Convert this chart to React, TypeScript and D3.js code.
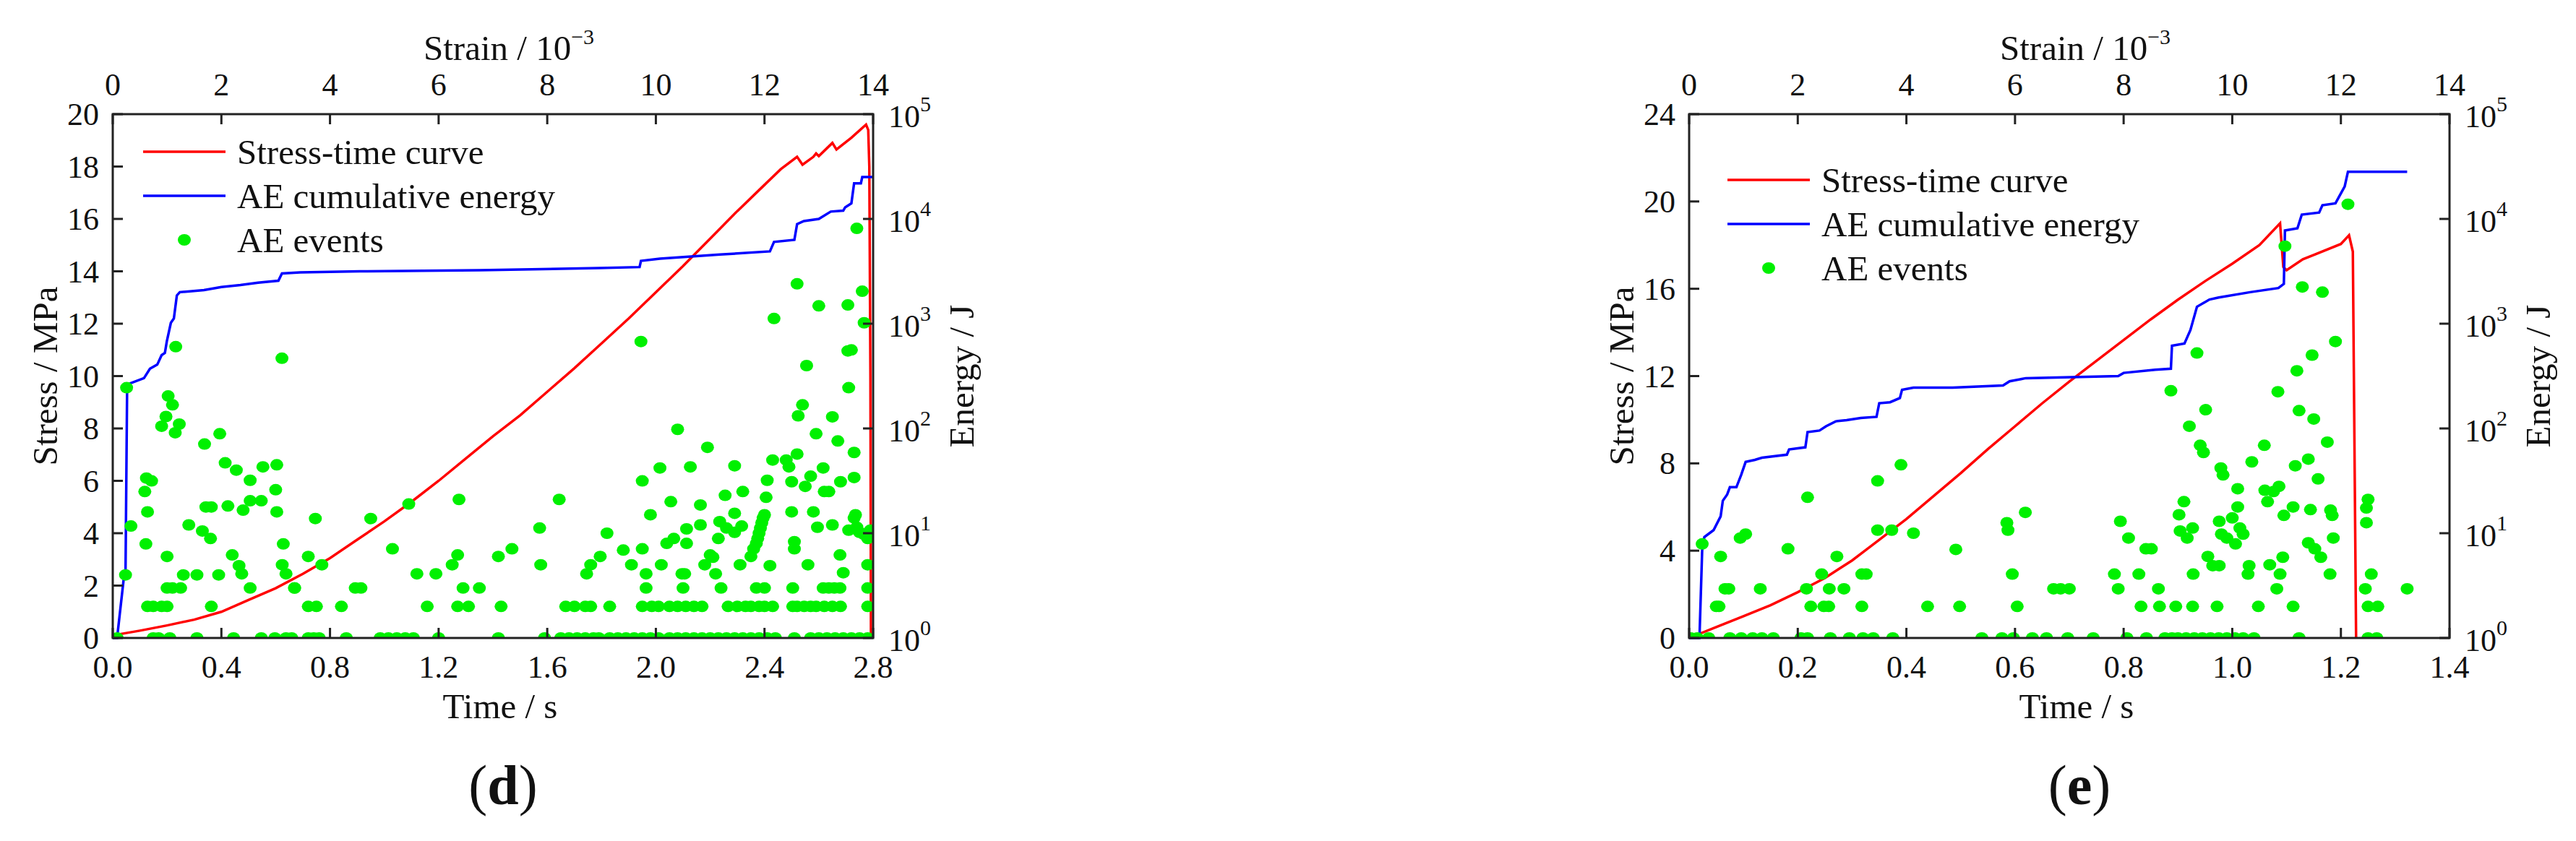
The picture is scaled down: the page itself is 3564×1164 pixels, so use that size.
import React from 'react';
import * as d3 from 'd3';

type Pt = [number, number];

// ---- shared axis ticks ----
const strainTicks = [0, 2, 4, 6, 8, 10, 12, 14];
const energyTicks = [1, 10, 100, 1000, 10000, 100000];
const legendLabels = ['Stress-time curve', 'AE cumulative energy', 'AE events'];

// ---- panel (d) ----
const timeTicksD = [0, 0.4, 0.8, 1.2, 1.6, 2.0, 2.4, 2.8];
const stressTicksD = [0, 2, 4, 6, 8, 10, 12, 14, 16, 18, 20];

const stressD: Pt[] = [
  [0, 0.1], [0.1, 0.28], [0.2, 0.48], [0.3, 0.7], [0.4, 1.0], [0.5, 1.45], [0.6, 1.9],
  [0.7, 2.45], [0.8, 3.05], [0.9, 3.75], [1.0, 4.45], [1.1, 5.2], [1.2, 6.0], [1.3, 6.85],
  [1.4, 7.7], [1.5, 8.5], [1.6, 9.4], [1.7, 10.3], [1.8, 11.25], [1.9, 12.2], [2.0, 13.2],
  [2.1, 14.2], [2.2, 15.25], [2.3, 16.3], [2.4, 17.3], [2.46, 17.9], [2.52, 18.37],
  [2.54, 18.07], [2.58, 18.37], [2.59, 18.5], [2.6, 18.4], [2.63, 18.7], [2.65, 18.9],
  [2.665, 18.65], [2.72, 19.1], [2.774, 19.6], [2.782, 19.4], [2.786, 18.0], [2.79, 10],
  [2.792, 0],
];

const energyD: Pt[] = [
  [0, 1], [0.016, 1], [0.042, 4], [0.047, 4.2], [0.053, 263], [0.115, 302], [0.137, 372],
  [0.164, 407], [0.18, 501], [0.192, 525], [0.199, 676], [0.214, 1020], [0.225, 1120],
  [0.236, 1860], [0.247, 2000], [0.336, 2090], [0.4, 2240], [0.47, 2340], [0.535, 2460],
  [0.61, 2570], [0.623, 3020], [0.69, 3090], [0.91, 3160], [1.35, 3240], [1.79, 3390],
  [1.94, 3470], [1.945, 3980], [2.015, 4170], [2.236, 4570], [2.42, 4900], [2.435, 6030],
  [2.51, 6310], [2.52, 8910], [2.545, 9550], [2.6, 10000], [2.644, 11750], [2.69, 12000],
  [2.697, 12900], [2.72, 14100], [2.73, 21900], [2.755, 21900], [2.76, 25100], [2.8, 25100],
];

const oneJTimesD = [
  0.016, 0.149, 0.169, 0.21, 0.31, 0.445, 0.547, 0.597, 0.638, 0.659, 0.72, 0.74, 0.76, 0.86,
  0.985, 1.015, 1.046, 1.077, 1.107, 1.2, 1.42, 1.59, 1.65, 1.68, 1.71, 1.74, 1.77, 1.79,
  1.83, 1.86, 1.89, 1.92, 1.95, 1.98, 2.01, 2.05, 2.08, 2.11, 2.14, 2.17, 2.2, 2.23, 2.26,
  2.29, 2.32, 2.35, 2.38, 2.41, 2.44, 2.51, 2.57, 2.6, 2.63, 2.66, 2.69, 2.72, 2.75, 2.78,
];
const twoJTimesD = [
  0.128, 0.149, 0.18, 0.2, 0.363, 0.72, 0.75, 0.842, 1.158, 1.27, 1.31, 1.43, 1.668, 1.7,
  1.74, 1.76, 1.83, 1.95, 1.985, 2.01, 2.05, 2.08, 2.11, 2.14, 2.17, 2.266, 2.3, 2.33, 2.35,
  2.38, 2.4, 2.43, 2.504, 2.52, 2.546, 2.57, 2.59, 2.62, 2.65, 2.68, 2.78,
];
const threeJTimesD = [
  0.2, 0.22, 0.25, 0.506, 0.67, 0.893, 0.914, 1.29, 1.35, 1.964, 2.1, 2.24, 2.37, 2.4, 2.504,
  2.616, 2.637, 2.657, 2.678, 2.78,
];
const scatterD: Pt[] = [
  [0.051, 245], [0.067, 11.7], [0.047, 4], [0.122, 7.9], [0.118, 25], [0.128, 16], [0.124, 33.6],
  [0.143, 31.6], [0.18, 105], [0.196, 130], [0.204, 204], [0.22, 168], [0.23, 91], [0.245, 110],
  [0.2, 6], [0.26, 4], [0.28, 12], [0.31, 4], [0.33, 10.5], [0.338, 71], [0.343, 17.8],
  [0.36, 8.9], [0.363, 17.8], [0.39, 4], [0.394, 89], [0.414, 47], [0.424, 18.2], [0.44, 6.2],
  [0.455, 40], [0.465, 4.9], [0.475, 4.1], [0.48, 16.6], [0.506, 32], [0.506, 20.4],
  [0.547, 20.4], [0.553, 43], [0.6, 26], [0.604, 45], [0.604, 16], [0.628, 7.9], [0.624, 5],
  [0.638, 4.1], [0.623, 468], [0.669, 3], [0.72, 6], [0.746, 13.8], [0.77, 5], [0.95, 13.8],
  [1.03, 7.1], [1.09, 19], [1.12, 4.1], [1.19, 4.1], [1.25, 5], [1.27, 6.2], [1.275, 21],
  [1.42, 6], [1.47, 7.1], [1.572, 11.2], [1.576, 5], [1.644, 21], [1.745, 4.1], [1.76, 5],
  [1.795, 6], [1.82, 10], [1.88, 6.9], [1.91, 5], [1.95, 31.6], [1.95, 7.1], [1.964, 4.1],
  [1.98, 15], [1.945, 676], [2.015, 42], [2.02, 5], [2.04, 8], [2.055, 20], [2.066, 8.9],
  [2.08, 98], [2.096, 4.1], [2.106, 4.1], [2.113, 8], [2.113, 11], [2.127, 43], [2.164, 18.6],
  [2.164, 12], [2.18, 5], [2.19, 66], [2.2, 6.2], [2.21, 5.9], [2.22, 4.1], [2.23, 8.9],
  [2.235, 12.9], [2.255, 23], [2.26, 11.2], [2.29, 15.5], [2.29, 44], [2.29, 10.2], [2.31, 5],
  [2.316, 11.7], [2.32, 25], [2.35, 6], [2.36, 7.1], [2.37, 8], [2.375, 8.9], [2.38, 10],
  [2.385, 11.2], [2.39, 12.6], [2.395, 14], [2.4, 15], [2.406, 22], [2.41, 32], [2.42, 4.9],
  [2.43, 50], [2.435, 1120], [2.48, 50], [2.49, 43], [2.5, 31], [2.5, 16], [2.51, 8.3],
  [2.51, 7.1], [2.52, 57], [2.524, 132], [2.54, 168], [2.55, 28], [2.555, 398], [2.52, 2400],
  [2.56, 5], [2.57, 35], [2.58, 16], [2.59, 89], [2.595, 11.4], [2.6, 1480], [2.616, 42],
  [2.62, 25], [2.637, 25], [2.65, 129], [2.65, 12], [2.67, 76], [2.678, 6.2], [2.68, 31],
  [2.69, 4.2], [2.707, 1510], [2.707, 550], [2.72, 562], [2.71, 245], [2.71, 10.7], [2.73, 59],
  [2.73, 34], [2.73, 14], [2.735, 15], [2.74, 11.4], [2.75, 10.2], [2.765, 9.8], [2.78, 8.9],
  [2.79, 10.7], [2.78, 5], [2.74, 8130], [2.76, 2040], [2.767, 1020], [0.232, 603],
];

// ---- panel (e) ----
const timeTicksE = [0, 0.2, 0.4, 0.6, 0.8, 1.0, 1.2, 1.4];
const stressTicksE = [0, 4, 8, 12, 16, 20, 24];

const stressE: Pt[] = [
  [0, 0], [0.05, 0.5], [0.1, 1.0], [0.15, 1.5], [0.2, 2.1], [0.25, 2.75], [0.3, 3.55],
  [0.35, 4.5], [0.4, 5.45], [0.45, 6.5], [0.5, 7.55], [0.55, 8.65], [0.6, 9.7], [0.65, 10.75],
  [0.7, 11.75], [0.75, 12.7], [0.8, 13.65], [0.85, 14.6], [0.9, 15.5], [0.95, 16.35],
  [1.0, 17.15], [1.05, 18.0], [1.088, 19.0], [1.094, 17.0], [1.1, 16.85], [1.13, 17.35],
  [1.15, 17.55], [1.2, 18.05], [1.215, 18.45], [1.222, 17.7], [1.228, 0],
];

const energyE: Pt[] = [
  [0, 1], [0.019, 1], [0.024, 6.9], [0.028, 9.2], [0.045, 10.7], [0.058, 14.5], [0.062, 20.4],
  [0.07, 23.4], [0.075, 27.5], [0.087, 27.5], [0.096, 36.3], [0.104, 47.9], [0.121, 50.1],
  [0.134, 52.5], [0.18, 56.2], [0.184, 63.1], [0.214, 66.1], [0.218, 92.3], [0.24, 95.5],
  [0.252, 105], [0.27, 117], [0.29, 120], [0.316, 126], [0.345, 129], [0.35, 174], [0.37, 178],
  [0.388, 195], [0.392, 234], [0.413, 245], [0.485, 245], [0.578, 257], [0.59, 282],
  [0.62, 302], [0.79, 316], [0.8, 339], [0.858, 363], [0.887, 372], [0.889, 617], [0.912, 646],
  [0.923, 871], [0.935, 1450], [0.958, 1700], [0.975, 1780], [1.033, 2000], [1.085, 2190],
  [1.095, 2400], [1.097, 7760], [1.12, 8130], [1.128, 11000], [1.16, 11500], [1.166, 13500],
  [1.19, 14100], [1.207, 20400], [1.213, 28200], [1.322, 28200],
];

const oneJTimesE = [
  0.003, 0.015, 0.036, 0.075, 0.096, 0.117, 0.134, 0.155, 0.206, 0.218, 0.26, 0.295, 0.32,
  0.339, 0.375, 0.539, 0.576, 0.597, 0.632, 0.658, 0.697, 0.744, 0.806, 0.842, 0.876, 0.889,
  0.9, 0.915, 0.93, 0.945, 0.96, 0.975, 0.99, 1.005, 1.02, 1.04, 1.123, 1.25, 1.266,
];
const twoJTimesE = [
  0.05, 0.055, 0.224, 0.248, 0.257, 0.318, 0.439, 0.498, 0.604, 0.832, 0.866, 0.896, 0.927,
  0.972, 1.048, 1.112, 1.25, 1.268,
];
const threeJTimesE = [
  0.066, 0.073, 0.131, 0.216, 0.258, 0.285, 0.671, 0.684, 0.7, 0.79, 0.864, 1.082, 1.245, 1.322,
];
const fourJTimesE = [0.244, 0.318, 0.326, 0.595, 0.783, 0.828, 0.928, 1.029, 1.088, 1.18, 1.256];
const scatterE: Pt[] = [
  [0.024, 7.9], [0.058, 6], [0.094, 9], [0.104, 9.8], [0.182, 7.1], [0.218, 22], [0.272, 6],
  [0.347, 31.6], [0.347, 10.7], [0.373, 10.7], [0.39, 45], [0.413, 10], [0.491, 7],
  [0.585, 12.6], [0.587, 10.7], [0.619, 15.8], [0.794, 13], [0.809, 9], [0.841, 7.1],
  [0.851, 7.1], [0.887, 229], [0.902, 15], [0.904, 10.5], [0.911, 20], [0.917, 9], [0.921, 105],
  [0.927, 11.2], [0.941, 69], [0.947, 59], [0.951, 151], [0.955, 6], [0.964, 4.9], [0.976, 4.9],
  [0.976, 13], [0.979, 42], [0.983, 36], [0.98, 9.8], [0.99, 9], [1.0, 14], [1.006, 7.9],
  [1.01, 17.8], [1.01, 26.6], [1.014, 11.2], [1.02, 9.8], [1.031, 4.9], [1.036, 48],
  [1.059, 69], [1.06, 25.7], [1.065, 20], [1.069, 5], [1.076, 25], [1.084, 224], [1.086, 28],
  [1.093, 5.9], [1.095, 14.8], [1.112, 17.8], [1.116, 44], [1.119, 355], [1.123, 148],
  [1.14, 51], [1.14, 8.1], [1.144, 16.8], [1.15, 123], [1.152, 7.1], [1.158, 33], [1.163, 5.9],
  [1.175, 74], [1.181, 16.6], [1.184, 14.8], [1.186, 9], [1.247, 12.6], [1.247, 17.4],
  [1.25, 21], [1.213, 13800], [1.097, 5500], [1.129, 2240], [1.166, 2000], [1.19, 676],
  [0.935, 525], [1.147, 501],
];

const rows = (times: number[], e: number): Pt[] => times.map((t) => [t, e]);
const eventsD: Pt[] = [
  ...rows(oneJTimesD, 1), ...rows(twoJTimesD, 2), ...rows(threeJTimesD, 3), ...scatterD,
];
const eventsE: Pt[] = [
  ...rows(oneJTimesE, 1), ...rows(twoJTimesE, 2), ...rows(threeJTimesE, 2.95),
  ...rows(fourJTimesE, 4.07), ...scatterE,
];

const FONT = "'Liberation Serif', 'Times New Roman', serif";
const TOP = 158;
const BOTTOM = 883;
const W = 1052;
const RED = '#ff0000';
const BLUE = '#0000ff';
const GREEN = '#00f000';
const AXIS = '#222';

interface PanelProps {
  id: string;
  left: number;
  tMax: number;
  timeTicks: number[];
  sMax: number;
  stressTicks: number[];
  stress: Pt[];
  energy: Pt[];
  events: Pt[];
  legendDx: number;
  legendTop: number;
  tag: string;
}

const Panel = ({
  id, left, tMax, timeTicks, sMax, stressTicks, stress, energy, events, legendDx, legendTop, tag,
}: PanelProps) => {
  const right = left + W;
  const x = d3.scaleLinear().domain([0, tMax]).range([left, right]);
  const xs = d3.scaleLinear().domain([0, 14]).range([left, right]);
  const y = d3.scaleLinear().domain([0, sMax]).range([BOTTOM, TOP]);
  const ye = d3.scaleLog().domain([1, 1e5]).range([BOTTOM, TOP]);
  const stressLine = d3.line<Pt>().x((d) => x(d[0])).y((d) => y(d[1]));
  const energyLine = d3.line<Pt>().x((d) => x(d[0])).y((d) => ye(d[1]));
  const tick = 14;
  const rowGap = 61;
  const lx0 = left + legendDx;
  const lx1 = lx0 + 114;

  return (
    <g fontFamily={FONT} fill="#111">
      <defs>
        <clipPath id={`clip-${id}`}>
          <rect x={left} y={TOP} width={W} height={BOTTOM - TOP} />
        </clipPath>
      </defs>

      <path d={stressLine(stress) || ''} fill="none" stroke={RED} strokeWidth={3.5} />
      <path d={energyLine(energy) || ''} fill="none" stroke={BLUE} strokeWidth={3.5} />
      <g clipPath={`url(#clip-${id})`}>
        {events.map((d, i) => (
          <ellipse key={i} cx={x(d[0])} cy={ye(d[1])} rx={9} ry={8} fill={GREEN} />
        ))}
      </g>

      {/* frame */}
      <rect x={left} y={TOP} width={W} height={BOTTOM - TOP} fill="none" stroke={AXIS} strokeWidth={3} />

      {/* bottom time axis */}
      {timeTicks.map((t) => (
        <g key={`b${t}`}>
          <line x1={x(t)} x2={x(t)} y1={BOTTOM} y2={BOTTOM - tick} stroke={AXIS} strokeWidth={3} />
          <text x={x(t)} y={BOTTOM + 55} textAnchor="middle" fontSize={44}>{d3.format('.1f')(t)}</text>
        </g>
      ))}
      <text x={left + 536} y={994} textAnchor="middle" fontSize={49}>Time / s</text>

      {/* top strain axis */}
      {strainTicks.map((t) => (
        <g key={`t${t}`}>
          <line x1={xs(t)} x2={xs(t)} y1={TOP} y2={TOP + tick} stroke={AXIS} strokeWidth={3} />
          <text x={xs(t)} y={TOP - 26} textAnchor="middle" fontSize={44}>{t}</text>
        </g>
      ))}
      <text x={left + 430} y={83} fontSize={49}>
        Strain / 10<tspan dy={-22} fontSize={30}>−3</tspan>
      </text>

      {/* left stress axis */}
      {stressTicks.map((s) => (
        <g key={`l${s}`}>
          <line x1={left} x2={left + tick} y1={y(s)} y2={y(s)} stroke={AXIS} strokeWidth={3} />
          <text x={left - 19} y={y(s) + 15} textAnchor="end" fontSize={44}>{s}</text>
        </g>
      ))}
      <text
        transform={`translate(${left - 94},${(TOP + BOTTOM) / 2}) rotate(-90)`}
        textAnchor="middle"
        dominantBaseline="central"
        fontSize={49}
      >
        Stress / MPa
      </text>

      {/* right energy axis */}
      {energyTicks.map((e) => (
        <g key={`r${e}`}>
          <line x1={right} x2={right - tick} y1={ye(e)} y2={ye(e)} stroke={AXIS} strokeWidth={3} />
          <text x={right + 21} y={ye(e) + 18} fontSize={44}>
            10<tspan dy={-22} fontSize={30}>{Math.round(Math.log10(e))}</tspan>
          </text>
        </g>
      ))}
      <text
        transform={`translate(${right + 122},${(TOP + BOTTOM) / 2}) rotate(-90)`}
        textAnchor="middle"
        dominantBaseline="central"
        fontSize={49}
      >
        Energy / J
      </text>

      {/* legend */}
      {legendLabels.map((label, i) => {
        const ly = legendTop + i * rowGap;
        return (
          <g key={label}>
            {i === 0 && <line x1={lx0} x2={lx1} y1={ly} y2={ly} stroke={RED} strokeWidth={3.5} />}
            {i === 1 && <line x1={lx0} x2={lx1} y1={ly} y2={ly} stroke={BLUE} strokeWidth={3.5} />}
            {i === 2 && <ellipse cx={(lx0 + lx1) / 2} cy={ly} rx={9} ry={8} fill={GREEN} />}
            <text x={lx1 + 16} y={ly + 17} fontSize={49}>{label}</text>
          </g>
        );
      })}

      <text x={left + 540} y={1113} textAnchor="middle" fontSize={78}>
        (<tspan fontWeight="bold">{tag}</tspan>)
      </text>
    </g>
  );
};

export default function App() {
  return (
    <>
      <style>{`body{margin:0;overflow:hidden;background:#fff}`}</style>
      <svg width={3564} height={1164} viewBox="0 0 3564 1164" style={{ display: 'block' }}>
        <rect width={3564} height={1164} fill="#fff" />
        <Panel
          id="d" left={156} tMax={2.8} timeTicks={timeTicksD} sMax={20} stressTicks={stressTicksD}
          stress={stressD} energy={energyD} events={eventsD} legendDx={42} legendTop={210} tag="d"
        />
        <Panel
          id="e" left={2337} tMax={1.4} timeTicks={timeTicksE} sMax={24} stressTicks={stressTicksE}
          stress={stressE} energy={energyE} events={eventsE} legendDx={53} legendTop={249} tag="e"
        />
      </svg>
    </>
  );
}
